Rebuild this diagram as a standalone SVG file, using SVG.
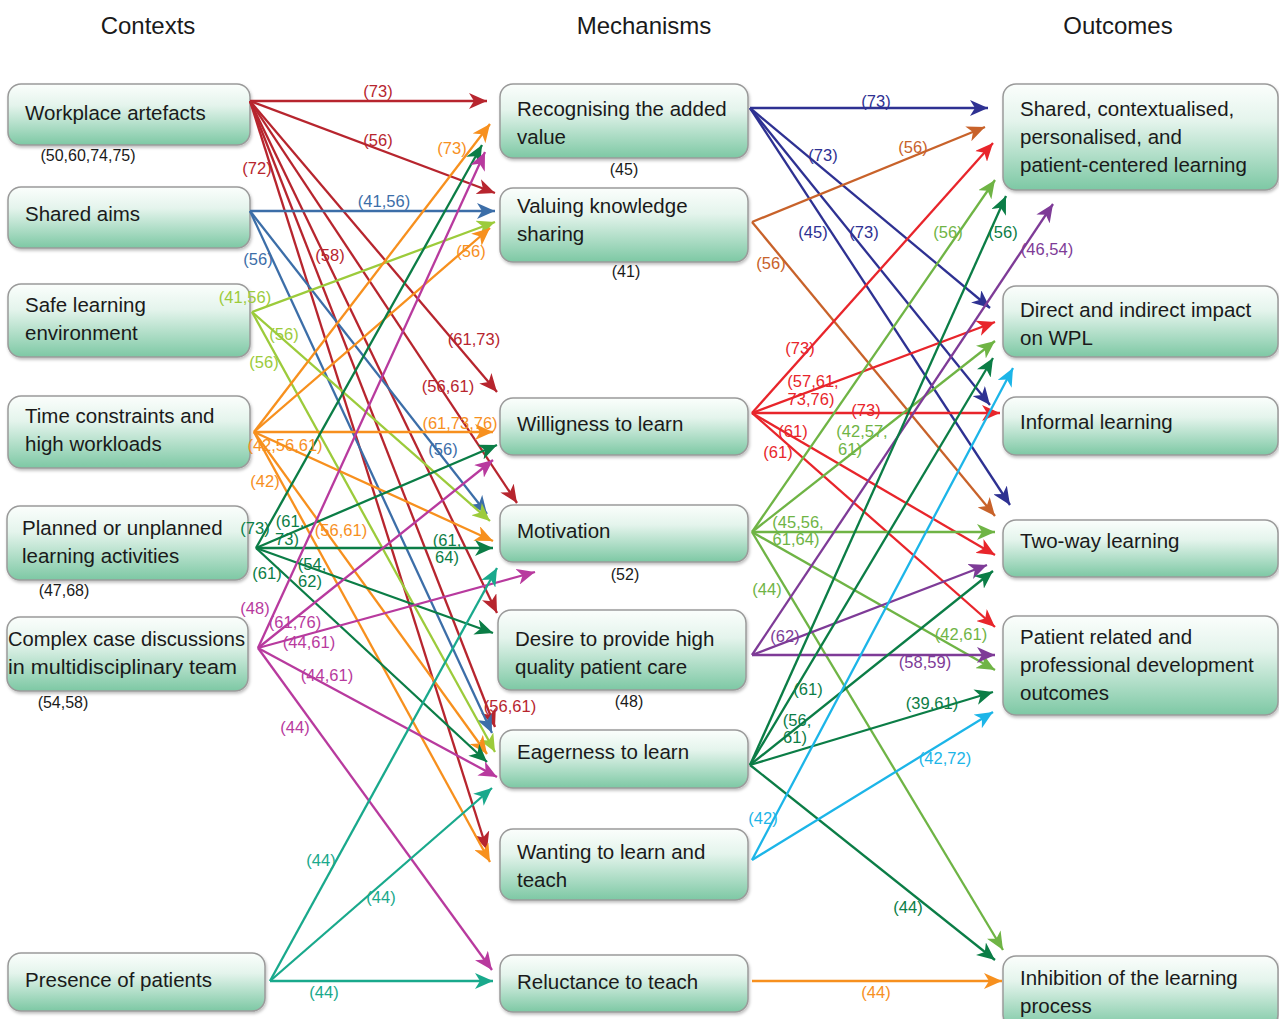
<svg xmlns="http://www.w3.org/2000/svg" width="1279" height="1019" viewBox="0 0 1279 1019">
<defs>
<linearGradient id="g" x1="0" y1="0" x2="0" y2="1">
<stop offset="0" stop-color="#fbfefc"/>
<stop offset="0.35" stop-color="#e4f4ec"/>
<stop offset="1" stop-color="#7dc8a4"/>
</linearGradient>
<filter id="sh" x="-5%" y="-10%" width="110%" height="130%">
<feDropShadow dx="1" dy="2" stdDeviation="1.5" flood-color="#000" flood-opacity="0.25"/>
</filter>
<marker id="m-red1" markerUnits="userSpaceOnUse" markerWidth="20" markerHeight="16" refX="18" refY="8" orient="auto"><path d="M0,0 L18,8 L0,16 L5,8 z" fill="#b7252e"/></marker>
<marker id="m-blue" markerUnits="userSpaceOnUse" markerWidth="20" markerHeight="16" refX="18" refY="8" orient="auto"><path d="M0,0 L18,8 L0,16 L5,8 z" fill="#3c6ea8"/></marker>
<marker id="m-ygreen" markerUnits="userSpaceOnUse" markerWidth="20" markerHeight="16" refX="18" refY="8" orient="auto"><path d="M0,0 L18,8 L0,16 L5,8 z" fill="#9ccb3b"/></marker>
<marker id="m-orange" markerUnits="userSpaceOnUse" markerWidth="20" markerHeight="16" refX="18" refY="8" orient="auto"><path d="M0,0 L18,8 L0,16 L5,8 z" fill="#f7901e"/></marker>
<marker id="m-dgreen" markerUnits="userSpaceOnUse" markerWidth="20" markerHeight="16" refX="18" refY="8" orient="auto"><path d="M0,0 L18,8 L0,16 L5,8 z" fill="#0b7d46"/></marker>
<marker id="m-magenta" markerUnits="userSpaceOnUse" markerWidth="20" markerHeight="16" refX="18" refY="8" orient="auto"><path d="M0,0 L18,8 L0,16 L5,8 z" fill="#b83a9e"/></marker>
<marker id="m-teal" markerUnits="userSpaceOnUse" markerWidth="20" markerHeight="16" refX="18" refY="8" orient="auto"><path d="M0,0 L18,8 L0,16 L5,8 z" fill="#19a98c"/></marker>
<marker id="m-indigo" markerUnits="userSpaceOnUse" markerWidth="20" markerHeight="16" refX="18" refY="8" orient="auto"><path d="M0,0 L18,8 L0,16 L5,8 z" fill="#2e3192"/></marker>
<marker id="m-brown" markerUnits="userSpaceOnUse" markerWidth="20" markerHeight="16" refX="18" refY="8" orient="auto"><path d="M0,0 L18,8 L0,16 L5,8 z" fill="#c8622a"/></marker>
<marker id="m-red2" markerUnits="userSpaceOnUse" markerWidth="20" markerHeight="16" refX="18" refY="8" orient="auto"><path d="M0,0 L18,8 L0,16 L5,8 z" fill="#e8252b"/></marker>
<marker id="m-olive" markerUnits="userSpaceOnUse" markerWidth="20" markerHeight="16" refX="18" refY="8" orient="auto"><path d="M0,0 L18,8 L0,16 L5,8 z" fill="#6fb445"/></marker>
<marker id="m-purple" markerUnits="userSpaceOnUse" markerWidth="20" markerHeight="16" refX="18" refY="8" orient="auto"><path d="M0,0 L18,8 L0,16 L5,8 z" fill="#7e3b97"/></marker>
<marker id="m-cyan" markerUnits="userSpaceOnUse" markerWidth="20" markerHeight="16" refX="18" refY="8" orient="auto"><path d="M0,0 L18,8 L0,16 L5,8 z" fill="#1cb5e8"/></marker>
</defs>
<style>
.node rect{fill:url(#g);stroke:#9a9a9a;stroke-width:1.5;filter:url(#sh)}
.node text{font-family:"Liberation Sans",Arial,sans-serif;font-size:20.5px;fill:#1a1a1a;dominant-baseline:central}
.hdr{font-family:"Liberation Sans",Arial,sans-serif;font-size:24px;fill:#1a1a1a;text-anchor:middle;dominant-baseline:central}
.sub{font-family:"Liberation Sans",Arial,sans-serif;font-size:16px;fill:#1a1a1a;text-anchor:middle;dominant-baseline:central}
.edges line{stroke-width:2.3;fill:none}
.lbl text{font-family:"Liberation Sans",Arial,sans-serif;font-size:16.5px;text-anchor:middle;dominant-baseline:central}
.red1{stroke:#b7252e;marker-end:url(#m-red1)} .t-red1{fill:#b7252e}
.blue{stroke:#3c6ea8;marker-end:url(#m-blue)} .t-blue{fill:#3c6ea8}
.ygreen{stroke:#9ccb3b;marker-end:url(#m-ygreen)} .t-ygreen{fill:#9ccb3b}
.orange{stroke:#f7901e;marker-end:url(#m-orange)} .t-orange{fill:#f7901e}
.dgreen{stroke:#0b7d46;marker-end:url(#m-dgreen)} .t-dgreen{fill:#0b7d46}
.magenta{stroke:#b83a9e;marker-end:url(#m-magenta)} .t-magenta{fill:#b83a9e}
.teal{stroke:#19a98c;marker-end:url(#m-teal)} .t-teal{fill:#19a98c}
.indigo{stroke:#2e3192;marker-end:url(#m-indigo)} .t-indigo{fill:#2e3192}
.brown{stroke:#c8622a;marker-end:url(#m-brown)} .t-brown{fill:#c8622a}
.red2{stroke:#e8252b;marker-end:url(#m-red2)} .t-red2{fill:#e8252b}
.olive{stroke:#6fb445;marker-end:url(#m-olive)} .t-olive{fill:#6fb445}
.purple{stroke:#7e3b97;marker-end:url(#m-purple)} .t-purple{fill:#7e3b97}
.cyan{stroke:#1cb5e8;marker-end:url(#m-cyan)} .t-cyan{fill:#1cb5e8}
</style>
<rect width="1279" height="1019" fill="#fff"/>
<text class="hdr" x="148" y="25">Contexts</text>
<text class="hdr" x="644" y="25">Mechanisms</text>
<text class="hdr" x="1118" y="25">Outcomes</text>

<!-- Context nodes -->
<g id="ctx-workplace" class="node"><rect x="8" y="84" width="242" height="61" rx="13"/><text x="25" y="112">Workplace artefacts</text></g>
<g id="ctx-shared" class="node"><rect x="8" y="187" width="242" height="61" rx="13"/><text x="25" y="213">Shared aims</text></g>
<g id="ctx-safe" class="node"><rect x="8" y="284" width="242" height="73" rx="13"/><text x="25" y="304">Safe learning</text><text x="25" y="332">environment</text></g>
<g id="ctx-time" class="node"><rect x="8" y="396" width="242" height="72" rx="13"/><text x="25" y="415">Time constraints and</text><text x="25" y="443">high workloads</text></g>
<g id="ctx-planned" class="node"><rect x="7" y="506" width="241" height="74" rx="13"/><text x="22" y="527">Planned or unplanned</text><text x="22" y="555">learning activities</text></g>
<g id="ctx-complex" class="node"><rect x="7" y="617" width="241" height="74" rx="13"/><text x="8" y="638" textLength="237" lengthAdjust="spacingAndGlyphs">Complex case discussions</text><text x="8" y="666" textLength="229" lengthAdjust="spacingAndGlyphs">in multidisciplinary team</text></g>
<g id="ctx-patients" class="node"><rect x="8" y="953" width="257" height="58" rx="13"/><text x="25" y="979">Presence of patients</text></g>

<!-- Mechanism nodes -->
<g id="mec-recognising" class="node"><rect x="500" y="84" width="248" height="74" rx="13"/><text x="517" y="108">Recognising the added</text><text x="517" y="136">value</text></g>
<g id="mec-valuing" class="node"><rect x="500" y="188" width="248" height="74" rx="13"/><text x="517" y="205">Valuing knowledge</text><text x="517" y="233">sharing</text></g>
<g id="mec-willigness" class="node"><rect x="500" y="398" width="248" height="57" rx="13"/><text x="517" y="423">Willigness to learn</text></g>
<g id="mec-motivation" class="node"><rect x="500" y="505" width="248" height="57" rx="13"/><text x="517" y="530">Motivation</text></g>
<g id="mec-desire" class="node"><rect x="498" y="610" width="248" height="80" rx="13"/><text x="515" y="638">Desire to provide high</text><text x="515" y="666">quality patient care</text></g>
<g id="mec-eagerness" class="node"><rect x="500" y="730" width="248" height="58" rx="13"/><text x="517" y="751">Eagerness to learn</text></g>
<g id="mec-wanting" class="node"><rect x="500" y="829" width="248" height="71" rx="13"/><text x="517" y="851">Wanting to learn and</text><text x="517" y="879">teach</text></g>
<g id="mec-reluctance" class="node"><rect x="500" y="955" width="248" height="57" rx="13"/><text x="517" y="981">Reluctance to teach</text></g>

<!-- Outcome nodes -->
<g id="out-shared" class="node"><rect x="1003" y="84" width="275" height="106" rx="13"/><text x="1020" y="108">Shared, contextualised,</text><text x="1020" y="136">personalised, and</text><text x="1020" y="164">patient-centered learning</text></g>
<g id="out-direct" class="node"><rect x="1003" y="286" width="275" height="71" rx="13"/><text x="1020" y="309">Direct and indirect impact</text><text x="1020" y="337">on WPL</text></g>
<g id="out-informal" class="node"><rect x="1003" y="397" width="275" height="58" rx="13"/><text x="1020" y="421">Informal learning</text></g>
<g id="out-twoway" class="node"><rect x="1003" y="520" width="275" height="57" rx="13"/><text x="1020" y="540">Two-way learning</text></g>
<g id="out-patient" class="node"><rect x="1003" y="616" width="275" height="99" rx="13"/><text x="1020" y="636">Patient related and</text><text x="1020" y="664">professional development</text><text x="1020" y="692">outcomes</text></g>
<g id="out-inhibition" class="node"><rect x="1003" y="956" width="275" height="72" rx="13"/><text x="1020" y="977">Inhibition of the learning</text><text x="1020" y="1005">process</text></g>

<g id="sublabels">
<text class="sub" x="88" y="155">(50,60,74,75)</text>
<text class="sub" x="64" y="590">(47,68)</text>
<text class="sub" x="63" y="702">(54,58)</text>
<text class="sub" x="624" y="169">(45)</text>
<text class="sub" x="626" y="271">(41)</text>
<text class="sub" x="625" y="574">(52)</text>
<text class="sub" x="629" y="701">(48)</text>
</g>

<g id="connectors" class="edges">
<!-- Workplace artefacts -->
<line class="red1" x1="250" y1="101" x2="487" y2="101"/>
<line class="red1" x1="250" y1="101" x2="495" y2="193"/>
<line class="red1" x1="250" y1="101" x2="497" y2="392"/>
<line class="red1" x1="250" y1="101" x2="517" y2="503"/>
<line class="red1" x1="250" y1="101" x2="497" y2="613"/>
<line class="red1" x1="250" y1="101" x2="495" y2="727"/>
<line class="red1" x1="250" y1="101" x2="487" y2="850"/>
<!-- Shared aims -->
<line class="blue" x1="250" y1="211" x2="495" y2="211"/>
<line class="blue" x1="250" y1="211" x2="487" y2="514"/>
<line class="blue" x1="250" y1="211" x2="492" y2="733"/>
<!-- Safe learning -->
<line class="ygreen" x1="252" y1="312" x2="495" y2="222"/>
<line class="ygreen" x1="252" y1="312" x2="490" y2="521"/>
<line class="ygreen" x1="252" y1="312" x2="495" y2="752"/>
<!-- Time constraints -->
<line class="orange" x1="254" y1="432" x2="490" y2="124"/>
<line class="orange" x1="254" y1="432" x2="490" y2="228"/>
<line class="orange" x1="254" y1="432" x2="493" y2="432"/>
<line class="orange" x1="254" y1="432" x2="493" y2="541"/>
<line class="orange" x1="254" y1="432" x2="487" y2="754"/>
<line class="orange" x1="254" y1="432" x2="490" y2="862"/>
<!-- Planned -->
<line class="dgreen" x1="256" y1="548" x2="482" y2="145"/>
<line class="dgreen" x1="256" y1="548" x2="497" y2="445"/>
<line class="dgreen" x1="256" y1="548" x2="493" y2="548"/>
<line class="dgreen" x1="256" y1="548" x2="493" y2="633"/>
<line class="dgreen" x1="256" y1="548" x2="487" y2="762"/>
<!-- Complex case -->
<line class="magenta" x1="258" y1="648" x2="485" y2="152"/>
<line class="magenta" x1="258" y1="648" x2="493" y2="460"/>
<line class="magenta" x1="258" y1="648" x2="535" y2="572"/>
<line class="magenta" x1="258" y1="648" x2="497" y2="777"/>
<line class="magenta" x1="258" y1="648" x2="492" y2="970"/>
<!-- Presence of patients -->
<line class="teal" x1="270" y1="981" x2="497" y2="568"/>
<line class="teal" x1="270" y1="981" x2="492" y2="788"/>
<line class="teal" x1="270" y1="981" x2="493" y2="981"/>
<!-- Recognising -->
<line class="indigo" x1="750" y1="108" x2="988" y2="108"/>
<line class="indigo" x1="750" y1="108" x2="990" y2="308"/>
<line class="indigo" x1="750" y1="108" x2="990" y2="405"/>
<line class="indigo" x1="750" y1="108" x2="1010" y2="505"/>
<!-- Valuing -->
<line class="brown" x1="752" y1="222" x2="985" y2="127"/>
<line class="brown" x1="752" y1="222" x2="995" y2="516"/>
<!-- Willigness -->
<line class="red2" x1="752" y1="413" x2="993" y2="143"/>
<line class="red2" x1="752" y1="413" x2="995" y2="322"/>
<line class="red2" x1="752" y1="413" x2="1000" y2="413"/>
<line class="red2" x1="752" y1="413" x2="995" y2="555"/>
<line class="red2" x1="752" y1="413" x2="995" y2="627"/>
<!-- Motivation -->
<line class="olive" x1="752" y1="532" x2="995" y2="180"/>
<line class="olive" x1="752" y1="532" x2="995" y2="341"/>
<line class="olive" x1="752" y1="532" x2="995" y2="532"/>
<line class="olive" x1="752" y1="532" x2="995" y2="670"/>
<line class="olive" x1="752" y1="532" x2="1003" y2="950"/>
<!-- Desire -->
<line class="purple" x1="752" y1="655" x2="1053" y2="204"/>
<line class="purple" x1="752" y1="655" x2="987" y2="565"/>
<line class="purple" x1="752" y1="655" x2="995" y2="655"/>
<!-- Eagerness -->
<line class="dgreen" x1="750" y1="765" x2="1006" y2="196"/>
<line class="dgreen" x1="750" y1="765" x2="993" y2="358"/>
<line class="dgreen" x1="750" y1="765" x2="993" y2="571"/>
<line class="dgreen" x1="750" y1="765" x2="993" y2="692"/>
<line class="dgreen" x1="750" y1="765" x2="995" y2="960"/>
<!-- Wanting -->
<line class="cyan" x1="752" y1="860" x2="1013" y2="368"/>
<line class="cyan" x1="752" y1="860" x2="993" y2="712"/>
<!-- Reluctance -->
<line class="orange" x1="752" y1="981" x2="1002" y2="981"/>
</g>

<g id="edge-labels" class="lbl">
<text class="t-red1" x="378" y="91">(73)</text>
<text class="t-red1" x="378" y="140">(56)</text>
<text class="t-red1" x="474" y="339">(61,73)</text>
<text class="t-red1" x="448" y="386">(56,61)</text>
<text class="t-red1" x="330" y="255">(58)</text>
<text class="t-red1" x="510" y="706">(56,61)</text>
<text class="t-red1" x="257" y="168">(72)</text>
<text class="t-blue" x="384" y="201">(41,56)</text>
<text class="t-blue" x="443" y="449">(56)</text>
<text class="t-blue" x="258" y="259">(56)</text>
<text class="t-ygreen" x="245" y="297">(41,56)</text>
<text class="t-ygreen" x="284" y="334">(56)</text>
<text class="t-ygreen" x="264" y="362">(56)</text>
<text class="t-orange" x="452" y="148">(73)</text>
<text class="t-orange" x="471" y="251">(56)</text>
<text class="t-orange" x="460" y="423">(61,73,76)</text>
<text class="t-orange" x="285" y="445">(42,56,61)</text>
<text class="t-orange" x="341" y="530">(56,61)</text>
<text class="t-orange" x="265" y="481">(42)</text>
<text class="t-dgreen" x="255" y="528">(73)</text>
<text class="t-dgreen" x="290" y="521">(61,</text>
<text class="t-dgreen" x="287" y="539">73)</text>
<text class="t-dgreen" x="447" y="540">(61,</text>
<text class="t-dgreen" x="447" y="557">64)</text>
<text class="t-dgreen" x="312" y="564">(54,</text>
<text class="t-dgreen" x="310" y="581">62)</text>
<text class="t-dgreen" x="267" y="573">(61)</text>
<text class="t-magenta" x="255" y="608">(48)</text>
<text class="t-magenta" x="295" y="622">(61,76)</text>
<text class="t-magenta" x="309" y="642">(44,61)</text>
<text class="t-magenta" x="327" y="675">(44,61)</text>
<text class="t-magenta" x="295" y="727">(44)</text>
<text class="t-teal" x="321" y="860">(44)</text>
<text class="t-teal" x="381" y="897">(44)</text>
<text class="t-teal" x="324" y="992">(44)</text>
<text class="t-indigo" x="876" y="101">(73)</text>
<text class="t-indigo" x="823" y="155">(73)</text>
<text class="t-indigo" x="864" y="232">(73)</text>
<text class="t-indigo" x="813" y="232">(45)</text>
<text class="t-brown" x="913" y="147">(56)</text>
<text class="t-brown" x="771" y="263">(56)</text>
<text class="t-red2" x="800" y="348">(73)</text>
<text class="t-red2" x="813" y="381">(57,61,</text>
<text class="t-red2" x="811" y="399">73,76)</text>
<text class="t-red2" x="866" y="410">(73)</text>
<text class="t-red2" x="793" y="431">(61)</text>
<text class="t-red2" x="778" y="452">(61)</text>
<text class="t-olive" x="862" y="431">(42,57,</text>
<text class="t-olive" x="850" y="449">61)</text>
<text class="t-olive" x="948" y="232">(56)</text>
<text class="t-olive" x="798" y="522">(45,56,</text>
<text class="t-olive" x="796" y="539">61,64)</text>
<text class="t-olive" x="961" y="634">(42,61)</text>
<text class="t-olive" x="767" y="589">(44)</text>
<text class="t-purple" x="1047" y="249">(46,54)</text>
<text class="t-purple" x="785" y="636">(62)</text>
<text class="t-purple" x="925" y="662">(58,59)</text>
<text class="t-dgreen" x="1003" y="232">(56)</text>
<text class="t-dgreen" x="808" y="689">(61)</text>
<text class="t-dgreen" x="797" y="720">(56,</text>
<text class="t-dgreen" x="795" y="737">61)</text>
<text class="t-dgreen" x="932" y="703">(39,61)</text>
<text class="t-dgreen" x="908" y="907">(44)</text>
<text class="t-cyan" x="763" y="818">(42)</text>
<text class="t-cyan" x="945" y="758">(42,72)</text>
<text class="t-orange" x="876" y="992">(44)</text>
</g>
</svg>
